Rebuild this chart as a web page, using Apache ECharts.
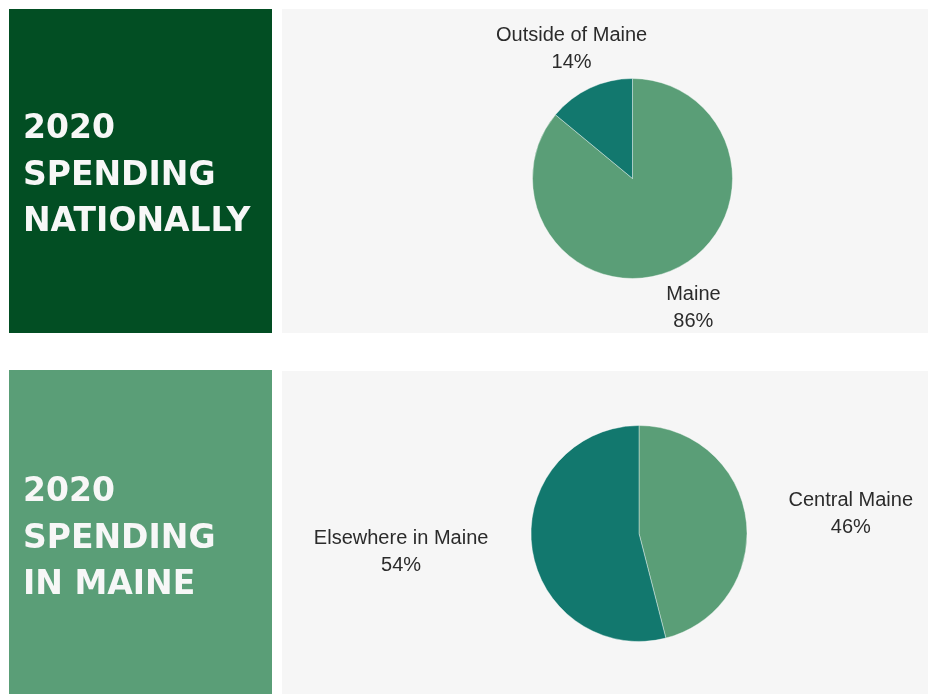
<!DOCTYPE html>
<html>
<head>
<meta charset="utf-8">
<script src="https://cdn.jsdelivr.net/npm/echarts@6/dist/echarts.min.js"></script>
<style>
html,body{margin:0;padding:0;background:#ffffff;}
#chart{width:928px;height:694px;}
</style>
</head>
<body>
<div id="chart"></div>
<script>
// ---- data ----
const nationalCategories = ['Maine', 'Outside of Maine'];
const nationalValues = [86, 14];
const maineCategories = ['Central Maine', 'Elsewhere in Maine'];
const maineValues = [46, 54];
const panelTitles = ['2020\nSPENDING\nNATIONALLY', '2020\nSPENDING\nIN MAINE'];

// ---- styles ----
const DARK_GREEN = '#024e23';
const LIGHT_GREEN = '#5a9e77';
const TEAL = '#12786e';
const PANEL_GRAY = '#f6f6f6';

const nationalColors = [LIGHT_GREEN, TEAL];
const maineColors = [LIGHT_GREEN, TEAL];
const nationalLines = [[43, 0], [43, 0]];
const maineLines = [[44, 61], [36, 95]];

function buildData(cats, vals, colors, lines) {
  return cats.map(function (c, i) {
    return {
      name: c,
      value: vals[i],
      itemStyle: { color: colors[i] },
      labelLine: { show: false, length: lines[i][0], length2: lines[i][1] }
    };
  });
}

function centerLabel(p) {
  var r = p.labelRect;
  var ax;
  if (p.align === 'right') ax = r.x + r.width;
  else if (p.align === 'left') ax = r.x;
  else ax = r.x + r.width / 2;
  return { x: ax, y: r.y + r.height / 2, align: 'center', verticalAlign: 'middle' };
}

const labelStyle = {
  show: true,
  position: 'outside',
  formatter: '{b}\n{c}%',
  fontFamily: '"Liberation Sans", Arial, sans-serif',
  fontSize: 20,
  lineHeight: 27,
  color: '#2b2b2b',
  distanceToLabelLine: 0
};

const chart = echarts.init(document.getElementById('chart'), null, { renderer: 'canvas' });

const titleFont = {
  fontFamily: '"DejaVu Sans", Verdana, sans-serif',
  fontWeight: 'bold',
  fontSize: 33,
  lineHeight: 46.5,
  fill: '#f7f7f7'
};

chart.setOption({
  backgroundColor: '#ffffff',
  animation: false,
  graphic: [
    { type: 'rect', shape: { x: 9, y: 9, width: 263, height: 324 }, style: { fill: DARK_GREEN }, z: -10 },
    { type: 'rect', shape: { x: 282, y: 9, width: 646, height: 324 }, style: { fill: PANEL_GRAY }, z: -10 },
    { type: 'rect', shape: { x: 9, y: 370, width: 263, height: 324 }, style: { fill: LIGHT_GREEN }, z: -10 },
    { type: 'rect', shape: { x: 282, y: 371, width: 646, height: 323 }, style: { fill: PANEL_GRAY }, z: -10 },
    { type: 'text', x: 23, y: 176, style: Object.assign({ text: panelTitles[0], verticalAlign: 'middle', align: 'left' }, titleFont) },
    { type: 'text', x: 23, y: 539, style: Object.assign({ text: panelTitles[1], verticalAlign: 'middle', align: 'left' }, titleFont) }
  ],
  series: [
    {
      type: 'pie',
      center: [632.5, 178.5],
      radius: 100,
      startAngle: 90,
      clockwise: true,
      avoidLabelOverlap: false,
      label: labelStyle,
      labelLayout: centerLabel,
      itemStyle: { borderColor: '#ffffff', borderWidth: 0.4 },
      emphasis: { disabled: true },
      data: buildData(nationalCategories, nationalValues, nationalColors, nationalLines)
    },
    {
      type: 'pie',
      center: [639, 533.5],
      radius: 108,
      startAngle: 90,
      clockwise: true,
      avoidLabelOverlap: false,
      label: labelStyle,
      labelLayout: centerLabel,
      itemStyle: { borderColor: '#ffffff', borderWidth: 0.4 },
      emphasis: { disabled: true },
      data: buildData(maineCategories, maineValues, maineColors, maineLines)
    }
  ]
});
</script>
</body>
</html>
